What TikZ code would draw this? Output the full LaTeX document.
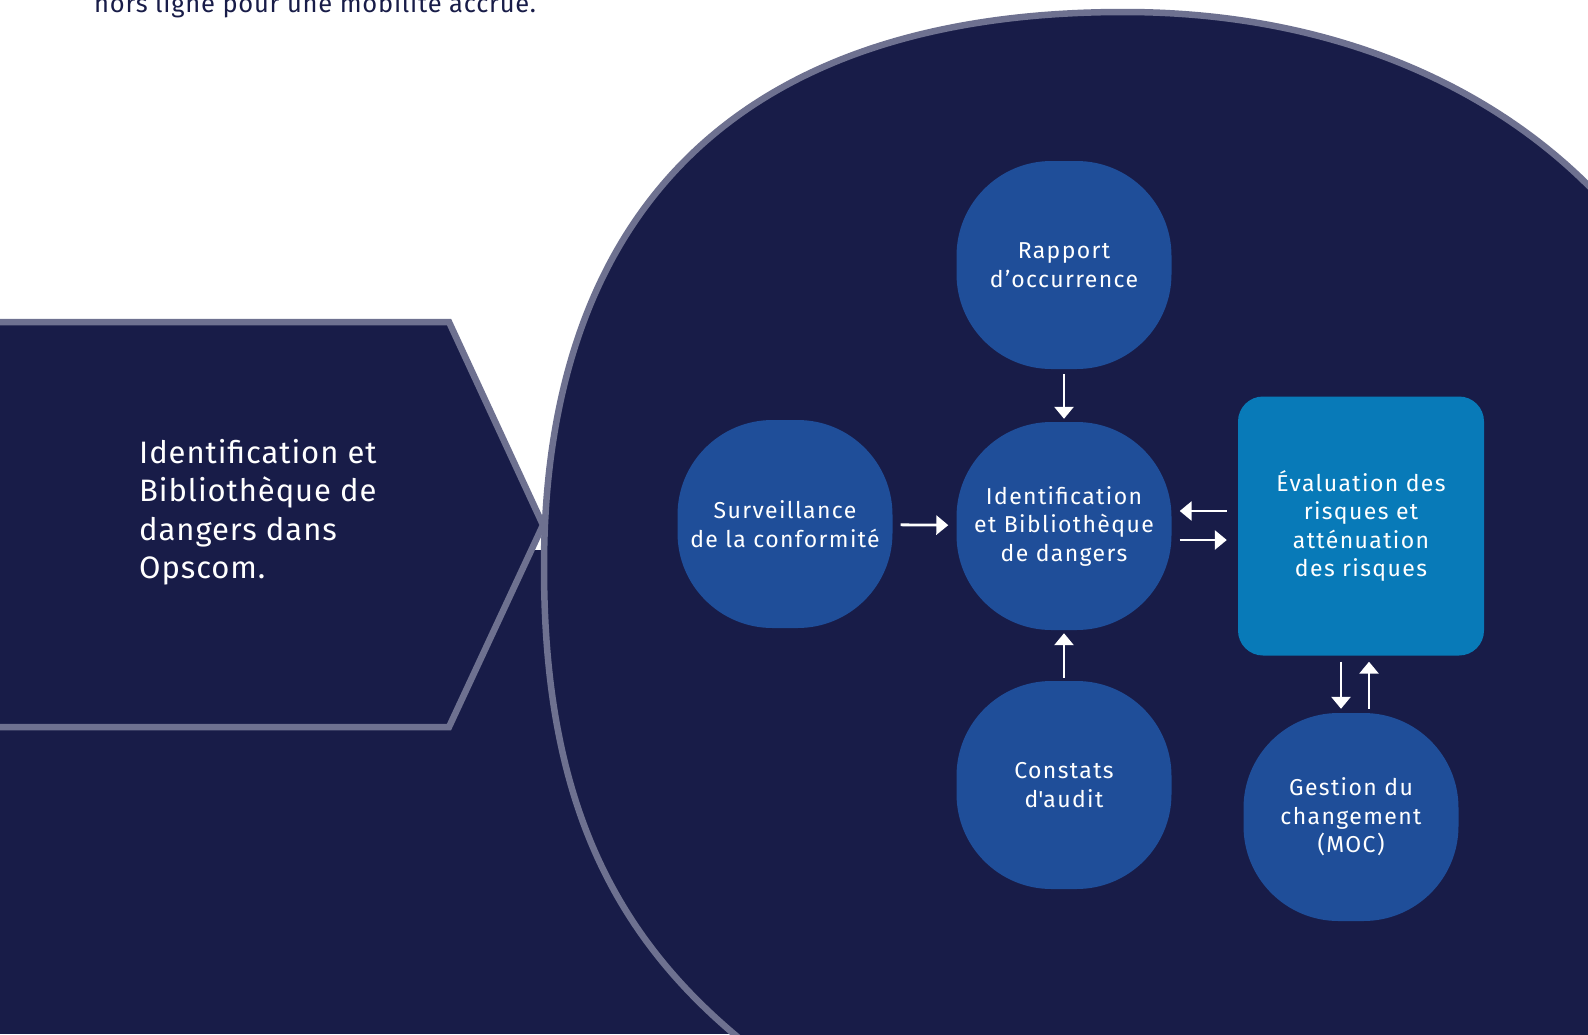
\documentclass[tikz,border=0pt]{standalone}
\usepackage{fontspec}
\setmainfont{Fira Sans}[LetterSpace=6]
\newfontfamily\titrefont{Fira Sans}[LetterSpace=3]
\usetikzlibrary{arrows.meta}
\definecolor{marine}{RGB}{24,28,72}
\definecolor{contour}{RGB}{110,113,144}
\definecolor{bleu}{RGB}{31,78,153}
\definecolor{azur}{RGB}{8,122,184}
\tikzset{
  pastille/.style={fill=bleu, rounded corners=95pt, minimum width=215pt, minimum height=208pt,
    inner sep=0pt, text=white, align=center, font=\fontsize{23}{28.5}\selectfont},
  fleche/.style={white, line width=2.8pt, -{Triangle[width=19pt,length=12pt]},
    shorten <=5pt, shorten >=3pt}
}
\begin{document}
\begin{tikzpicture}[x=1pt,y=-1pt]
		\useasboundingbox (0,0) rectangle (1588,1034);
		\clip (0,0) rectangle (1588,1034);
		\fill[white] (0,0) rectangle (1588,1034);
		\fill[marine] (0,550) rectangle (1588,1034);
		\node[anchor=base west, inner sep=0pt, text=marine, font=\titrefont\fontsize{25.5}{30}\selectfont] (intro) at (94,12) {hors ligne pour une mobilité accrue.};
		\filldraw[fill=marine, draw=contour, line width=6.5pt] (-10,322) -- (449,322) -- (543,525) -- (449,727) -- (-10,727) -- cycle;
		\node[anchor=west, align=left, inner sep=0pt, text=white, font=\titrefont\fontsize{31}{38.5}\selectfont] (titre) at (139,512) {Identification et\\Bibliothèque de\\dangers dans\\Opscom.};
		\filldraw[fill=marine, draw=contour, line width=6.5pt] (810,1090) .. controls (625,970) and (544,820) .. (544,567) .. controls (544,230) and (720,12) .. (1124,12) .. controls (1350,12) and (1520,100) .. (1620,220) -- (1700,300) -- (1700,1100) -- cycle;
		\node[pastille] (rapport) at (1064,265) {Rapport\\d’occurrence};
		\node[pastille] (ident) at (1064,526) {Identification\\et Bibliothèque\\de dangers};
		\node[pastille] (surv) at (785,524) {Surveillance\\de la conformité};
		\node[pastille] (constats) at (1064,785) {Constats\\d\textquotesingle audit};
		\node[pastille] (gestion) at (1351,817) {Gestion du\\changement\\(MOC)};
		\node[pastille, fill=azur, rounded corners=25pt, minimum width=246pt, minimum height=259pt] (eval) at (1361,526) {Évaluation des\\risques et\\atténuation\\des risques};
		\draw[fleche] (rapport) -- (ident);
		\draw[fleche, shorten <=3pt] (constats) -- (ident);
		\draw[fleche, shorten <=8pt, shorten >=8pt] (surv) -- (ident);
		\draw[fleche, shorten <=11pt, shorten >=8pt] ([yshift=15pt]eval.west) -- ([yshift=15pt]ident.east);
		\draw[fleche, shorten <=8pt, shorten >=11pt] ([yshift=-14pt]ident.east) -- ([yshift=-14pt]eval.west);
		\draw[fleche, shorten <=6pt, shorten >=4pt] ([xshift=-20pt]eval.south) -- ([xshift=-20pt]eval.south |- gestion.north);
		\draw[fleche, shorten <=4pt, shorten >=6pt] ([xshift=8pt]eval.south |- gestion.north) -- ([xshift=8pt]eval.south);
\end{tikzpicture}
\end{document}
